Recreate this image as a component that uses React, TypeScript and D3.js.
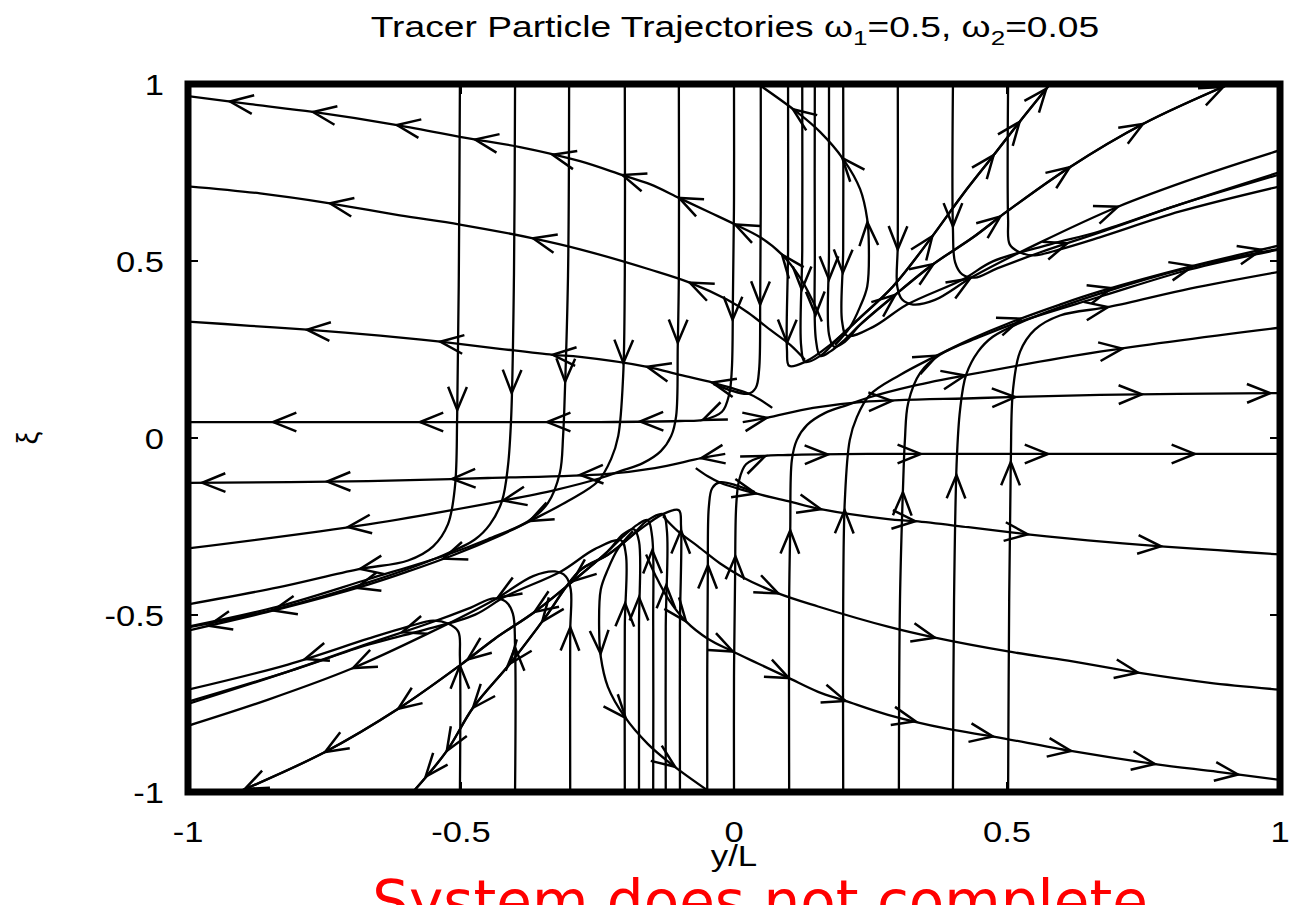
import React from "react";
import * as d3 from "d3";

type P = [number, number];

// ---------- axis ticks ----------
const xTicks = [-1, -0.5, 0, 0.5, 1];
const yTicks = [-1, -0.5, 0, 0.5, 1];
const xTickLabels = ["-1", "-0.5", "0", "0.5", "1"];
const yTickLabels = ["-1", "-0.5", "0", "0.5", "1"];

// ---------- trajectories (y/L, xi) in flow order, with arrow locations ----------
const t1: P[] = [[0.161,0.329],[0.143,0.391],[0.121,0.453],[0.088,0.518],[0.048,0.567],[0.005,0.601],[-0.044,0.637],[-0.099,0.677],[-0.154,0.717],[-0.203,0.742],[-0.282,0.782],[-0.392,0.822],[-0.478,0.844],[-0.617,0.884],[-0.771,0.921],[-0.886,0.943],[-1,0.966]];
const t1A: P[] = [[-0.923,0.952],[-0.771,0.921],[-0.617,0.887],[-0.474,0.844],[-0.333,0.796],[-0.205,0.739],[-0.099,0.683],[0.002,0.603],[0.088,0.518]];
const b1: P[] = [[-0.161,-0.329],[-0.143,-0.391],[-0.121,-0.453],[-0.088,-0.518],[-0.048,-0.567],[-0.005,-0.601],[0.044,-0.637],[0.099,-0.677],[0.154,-0.717],[0.203,-0.742],[0.282,-0.782],[0.392,-0.822],[0.478,-0.844],[0.617,-0.884],[0.771,-0.921],[0.886,-0.943],[1,-0.966]];
const b1A: P[] = [[0.923,-0.952],[0.771,-0.921],[0.617,-0.887],[0.474,-0.844],[0.333,-0.796],[0.205,-0.739],[0.099,-0.683],[-0.002,-0.603],[-0.088,-0.518]];

const t2: P[] = [[0.130,0.221],[0.103,0.263],[0.066,0.306],[0.026,0.354],[-0.013,0.391],[-0.081,0.439],[-0.154,0.476],[-0.282,0.533],[-0.368,0.564],[-0.502,0.603],[-0.612,0.629],[-0.740,0.663],[-0.868,0.691],[-1,0.711]];
const t2A: P[] = [[-0.740,0.663],[-0.368,0.564],[-0.081,0.439]];
const b2: P[] = [[-0.130,-0.221],[-0.103,-0.263],[-0.066,-0.306],[-0.026,-0.354],[0.013,-0.391],[0.081,-0.439],[0.154,-0.476],[0.282,-0.533],[0.368,-0.564],[0.502,-0.603],[0.612,-0.629],[0.740,-0.663],[0.868,-0.691],[1,-0.711]];
const b2A: P[] = [[0.740,-0.663],[0.368,-0.564],[0.081,-0.439]];

const t3: P[] = [[0.070,0.085],[0.048,0.108],[0.024,0.127],[-0.038,0.156],[-0.099,0.178],[-0.159,0.201],[-0.282,0.229],[-0.332,0.235],[-0.429,0.252],[-0.538,0.272],[-0.648,0.289],[-0.782,0.306],[-0.886,0.317],[-1,0.329]];
const t3A: P[] = [[-0.782,0.306],[-0.538,0.272],[-0.332,0.235],[-0.159,0.201],[-0.040,0.156]];
const b3: P[] = [[-0.070,-0.085],[-0.048,-0.108],[-0.024,-0.127],[0.038,-0.156],[0.099,-0.178],[0.159,-0.201],[0.282,-0.229],[0.332,-0.235],[0.429,-0.252],[0.538,-0.272],[0.648,-0.289],[0.782,-0.306],[0.886,-0.317],[1,-0.329]];
const b3A: P[] = [[0.782,-0.306],[0.538,-0.272],[0.332,-0.235],[0.159,-0.201],[0.040,-0.156]];

const t4: P[] = [[0,1],[0,0.674],[-0.002,0.391],[-0.004,0.193],[-0.009,0.122],[-0.022,0.074],[-0.057,0.051],[-0.099,0.048],[-0.245,0.045],[-0.429,0.045],[-0.612,0.045],[-0.795,0.045],[-1,0.045]];
const t4A: P[] = [[-0.002,0.334],[-0.057,0.051],[-0.172,0.046],[-0.342,0.045],[-0.575,0.045],[-0.844,0.045]];
const b4: P[] = [[0,-1],[0,-0.674],[0.002,-0.391],[0.004,-0.193],[0.009,-0.122],[0.022,-0.074],[0.057,-0.051],[0.099,-0.048],[0.245,-0.045],[0.429,-0.045],[0.612,-0.045],[0.795,-0.045],[1,-0.045]];
const b4A: P[] = [[0.002,-0.334],[0.057,-0.051],[0.172,-0.046],[0.342,-0.045],[0.575,-0.045],[0.844,-0.045]];

const v05: P[] = [[0.049,1],[0.049,0.674],[0.048,0.391],[0.046,0.193],[0.040,0.142],[0.026,0.125],[-0.038,0.153]];
const v05A: P[] = [[0.048,0.377]];
const vm05: P[] = [[-0.049,-1],[-0.049,-0.674],[-0.048,-0.391],[-0.046,-0.193],[-0.040,-0.142],[-0.026,-0.125],[0.038,-0.153]];
const vm05A: P[] = [[-0.048,-0.36]];

const r1: P[] = [[0.016,0.045],[0.060,0.057],[0.145,0.085],[0.236,0.102],[0.451,0.113],[0.670,0.122],[1,0.127]];
const r1A: P[] = [[0.060,0.057],[0.289,0.108],[0.515,0.119],[0.747,0.122],[0.982,0.125]];
const l1: P[] = [[-0.016,-0.045],[-0.060,-0.057],[-0.145,-0.085],[-0.236,-0.102],[-0.451,-0.113],[-0.670,-0.122],[-1,-0.127]];
const l1A: P[] = [[-0.060,-0.057],[-0.282,-0.105],[-0.516,-0.119],[-0.745,-0.125],[-0.974,-0.126]];

const r2: P[] = [[0.101,-1],[0.101,-0.459],[0.103,-0.261],[0.106,-0.062],[0.115,-0.006],[0.134,0.037],[0.167,0.071],[0.207,0.093],[0.244,0.113],[0.328,0.147],[0.427,0.178],[0.670,0.244],[1,0.312]];
const r2A: P[] = [[0.103,-0.261],[0.423,0.176],[0.711,0.255]];
const l2: P[] = [[-0.101,1],[-0.101,0.459],[-0.103,0.261],[-0.106,0.062],[-0.115,0.006],[-0.134,-0.037],[-0.167,-0.071],[-0.207,-0.093],[-0.244,-0.113],[-0.328,-0.147],[-0.427,-0.178],[-0.670,-0.244],[-1,-0.312]];
const l2A: P[] = [[-0.104,0.269],[-0.423,-0.176],[-0.707,-0.252]];

const r3: P[] = [[0.2,-1],[0.2,-0.459],[0.203,-0.176],[0.212,-0.006],[0.225,0.059],[0.249,0.122],[0.304,0.178],[0.364,0.227],[0.432,0.278],[0.511,0.329],[0.597,0.377],[0.670,0.414],[0.835,0.484],[1,0.544]];
const r3A: P[] = [[0.203,-0.204],[0.372,0.232],[0.527,0.331],[0.692,0.419],[0.841,0.484],[0.967,0.524]];
const l3: P[] = [[-0.2,1],[-0.2,0.459],[-0.203,0.176],[-0.212,0.006],[-0.225,-0.059],[-0.249,-0.122],[-0.304,-0.178],[-0.364,-0.227],[-0.432,-0.278],[-0.511,-0.329],[-0.597,-0.377],[-0.670,-0.414],[-0.835,-0.484],[-1,-0.544]];
const l3A: P[] = [[-0.203,0.212],[-0.374,-0.235],[-0.533,-0.338],[-0.692,-0.419],[-0.844,-0.487],[-0.963,-0.526]];

const r4: P[] = [[0.302,-1],[0.304,-0.459],[0.310,-0.119],[0.313,-0.006],[0.319,0.099],[0.341,0.184],[0.377,0.235],[0.451,0.286],[0.524,0.329],[0.670,0.399],[0.835,0.476],[1,0.533]];
const r4A: P[] = [[0.304,-0.153]];
const l4: P[] = [[-0.302,1],[-0.304,0.459],[-0.310,0.119],[-0.313,0.006],[-0.319,-0.099],[-0.341,-0.184],[-0.377,-0.235],[-0.451,-0.286],[-0.524,-0.329],[-0.670,-0.399],[-0.835,-0.476],[-1,-0.533]];
const l4A: P[] = [[-0.306,0.159]];

const r5: P[] = [[0.401,-1],[0.403,-0.459],[0.408,-0.062],[0.414,0.079],[0.425,0.178],[0.447,0.244],[0.474,0.286],[0.537,0.334],[0.670,0.408],[0.835,0.482],[1,0.535]];
const r5A: P[] = [[0.405,-0.105]];
const l5: P[] = [[-0.401,1],[-0.403,0.459],[-0.408,0.062],[-0.414,-0.079],[-0.425,-0.178],[-0.447,-0.244],[-0.474,-0.286],[-0.537,-0.334],[-0.670,-0.408],[-0.835,-0.482],[-1,-0.535]];
const l5A: P[] = [[-0.405,0.127]];

const r6: P[] = [[0.502,-1],[0.504,-0.459],[0.507,-0.062],[0.511,0.136],[0.524,0.244],[0.551,0.306],[0.597,0.346],[0.689,0.371],[0.835,0.422],[1,0.470]];
const r6A: P[] = [[0.504,-0.068],[0.685,0.370]];
const l6: P[] = [[-0.502,1],[-0.504,0.459],[-0.507,0.062],[-0.511,-0.136],[-0.524,-0.244],[-0.551,-0.306],[-0.597,-0.346],[-0.689,-0.371],[-0.835,-0.422],[-1,-0.470]];
const l6A: P[] = [[-0.504,0.079],[-0.685,-0.368]];

const g1: P[] = [[0.099,1],[0.099,0.533],[0.097,0.249],[0.101,0.204],[0.130,0.215],[0.176,0.263],[0.231,0.340],[0.291,0.428],[0.359,0.561],[0.419,0.688],[0.474,0.796],[0.524,0.895],[0.579,1]];
const g1A: P[] = [[0.097,0.269],[0.364,0.569],[0.478,0.796],[0.524,0.892],[0.573,0.985]];
const gm1: P[] = [[-0.099,-1],[-0.099,-0.533],[-0.097,-0.249],[-0.101,-0.204],[-0.130,-0.215],[-0.176,-0.263],[-0.231,-0.330],[-0.282,-0.374],[-0.350,-0.516],[-0.410,-0.637],[-0.478,-0.762],[-0.526,-0.884],[-0.588,-1]];
const gm1A: P[] = [[-0.097,-0.261],[-0.350,-0.520],[-0.410,-0.637],[-0.478,-0.762],[-0.526,-0.884],[-0.566,-0.955]];

const g125: P[] = [[0.125,1],[0.125,0.533],[0.123,0.26],[0.130,0.215],[0.158,0.232],[0.190,0.28],[0.231,0.340],[0.291,0.428],[0.359,0.561],[0.419,0.688],[0.474,0.796],[0.524,0.895],[0.579,1]];
const g125A: P[] = [[0.125,0.419]];
const gm125: P[] = [[-0.125,-1],[-0.125,-0.533],[-0.123,-0.26],[-0.130,-0.215],[-0.158,-0.232],[-0.190,-0.28],[-0.231,-0.330],[-0.282,-0.374],[-0.350,-0.516],[-0.410,-0.637],[-0.478,-0.762],[-0.526,-0.884],[-0.588,-1]];
const gm125A: P[] = [[-0.123,-0.416]];

const g2: P[] = [[0.148,1],[0.148,0.533],[0.150,0.278],[0.158,0.232],[0.176,0.244],[0.203,0.278],[0.231,0.320],[0.291,0.399],[0.364,0.490],[0.438,0.567],[0.5,0.640],[0.615,0.765],[0.749,0.887],[0.908,1]];
const g2A: P[] = [[0.148,0.348],[0.295,0.405],[0.368,0.485],[0.487,0.627],[0.615,0.765],[0.749,0.887],[0.896,0.99]];
const gm2: P[] = [[-0.148,-1],[-0.148,-0.533],[-0.150,-0.278],[-0.158,-0.232],[-0.176,-0.244],[-0.203,-0.278],[-0.231,-0.320],[-0.291,-0.399],[-0.364,-0.490],[-0.438,-0.567],[-0.5,-0.640],[-0.615,-0.765],[-0.749,-0.887],[-0.908,-1]];
const gm2A: P[] = [[-0.148,-0.317],[-0.295,-0.405],[-0.368,-0.485],[-0.487,-0.627],[-0.615,-0.765],[-0.749,-0.887],[-0.896,-0.99]];

const g175: P[] = [[0.174,1],[0.174,0.533],[0.174,0.292],[0.183,0.258],[0.203,0.272],[0.231,0.320],[0.291,0.399],[0.364,0.490],[0.438,0.567],[0.5,0.640],[0.615,0.765],[0.749,0.887],[0.908,1]];
const g175A: P[] = [[0.174,0.448]];
const gm175: P[] = [[-0.174,-1],[-0.174,-0.533],[-0.174,-0.292],[-0.183,-0.258],[-0.203,-0.272],[-0.231,-0.320],[-0.291,-0.399],[-0.364,-0.490],[-0.438,-0.567],[-0.5,-0.640],[-0.615,-0.765],[-0.749,-0.887],[-0.908,-1]];
const gm175A: P[] = [[-0.174,-0.45]];

const v2: P[] = [[0.2,1],[0.2,0.533],[0.198,0.329],[0.207,0.289],[0.255,0.314],[0.317,0.377],[0.419,0.448],[0.474,0.499],[0.579,0.547],[0.670,0.584],[0.817,0.660],[1,0.745]];
const v2A: P[] = [[0.2,0.467]];
const vm2: P[] = [[-0.2,-1],[-0.2,-0.533],[-0.198,-0.329],[-0.207,-0.289],[-0.255,-0.314],[-0.317,-0.377],[-0.419,-0.448],[-0.474,-0.499],[-0.579,-0.547],[-0.670,-0.584],[-0.817,-0.660],[-1,-0.745]];
const vm2A: P[] = [[-0.2,-0.467]];

const h1: P[] = [[0.3,1],[0.3,0.55],[0.299,0.428],[0.308,0.391],[0.328,0.377],[0.368,0.39],[0.438,0.456],[0.56,0.552],[0.701,0.652],[0.853,0.739],[1,0.813]];
const h1A: P[] = [[0.299,0.533],[0.432,0.452],[0.703,0.654]];
const hm1: P[] = [[-0.3,-1],[-0.3,-0.55],[-0.299,-0.428],[-0.308,-0.391],[-0.328,-0.377],[-0.368,-0.39],[-0.438,-0.456],[-0.56,-0.552],[-0.701,-0.652],[-0.853,-0.739],[-1,-0.813]];
const hm1A: P[] = [[-0.300,-0.535],[-0.432,-0.452],[-0.698,-0.649]];

const h2: P[] = [[0.401,1],[0.401,0.589],[0.405,0.496],[0.418,0.462],[0.441,0.453],[0.482,0.479],[0.560,0.524],[0.670,0.581],[0.817,0.660],[1,0.751]];
const h2A: P[] = [[0.401,0.598],[0.610,0.552]];
const hm2: P[] = [[-0.401,-1],[-0.401,-0.589],[-0.405,-0.496],[-0.418,-0.462],[-0.441,-0.453],[-0.482,-0.479],[-0.560,-0.524],[-0.670,-0.581],[-0.817,-0.660],[-1,-0.751]];
const hm2A: P[] = [[-0.401,-0.592],[-0.608,-0.548]];

const h3: P[] = [[0.502,1],[0.502,0.618],[0.505,0.547],[0.524,0.524],[0.551,0.516],[0.597,0.533],[0.670,0.567],[0.817,0.640],[1,0.711]];
const h3A: P[] = [];
const hm3: P[] = [[-0.502,-1],[-0.502,-0.618],[-0.505,-0.547],[-0.524,-0.524],[-0.551,-0.516],[-0.597,-0.533],[-0.670,-0.567],[-0.817,-0.640],[-1,-0.711]];
const hm3A: P[] = [[-0.502,-0.643],[-0.786,-0.623]];

const arc: P[] = [[0.185,0.263],[0.212,0.312],[0.231,0.371],[0.244,0.428],[0.247,0.541],[0.244,0.618],[0.231,0.703],[0.2,0.788],[0.158,0.864],[0.115,0.921],[0.044,1]];
const arcA: P[] = [[0.245,0.609],[0.2,0.793],[0.108,0.929]];
const arcm: P[] = [[-0.185,-0.263],[-0.212,-0.312],[-0.231,-0.371],[-0.244,-0.428],[-0.247,-0.541],[-0.244,-0.618],[-0.231,-0.703],[-0.2,-0.788],[-0.158,-0.864],[-0.115,-0.921],[-0.044,-1]];
const arcmA: P[] = [[-0.245,-0.609],[-0.2,-0.793],[-0.108,-0.929]];

const trajectories: { pts: P[]; arrows: P[] }[] = [
  { pts: t1, arrows: t1A }, { pts: b1, arrows: b1A },
  { pts: t2, arrows: t2A }, { pts: b2, arrows: b2A },
  { pts: t3, arrows: t3A }, { pts: b3, arrows: b3A },
  { pts: t4, arrows: t4A }, { pts: b4, arrows: b4A },
  { pts: v05, arrows: v05A }, { pts: vm05, arrows: vm05A },
  { pts: r1, arrows: r1A }, { pts: l1, arrows: l1A },
  { pts: r2, arrows: r2A }, { pts: l2, arrows: l2A },
  { pts: r3, arrows: r3A }, { pts: l3, arrows: l3A },
  { pts: r4, arrows: r4A }, { pts: l4, arrows: l4A },
  { pts: r5, arrows: r5A }, { pts: l5, arrows: l5A },
  { pts: r6, arrows: r6A }, { pts: l6, arrows: l6A },
  { pts: g1, arrows: g1A }, { pts: gm1, arrows: gm1A },
  { pts: g125, arrows: g125A }, { pts: gm125, arrows: gm125A },
  { pts: g2, arrows: g2A }, { pts: gm2, arrows: gm2A },
  { pts: g175, arrows: g175A }, { pts: gm175, arrows: gm175A },
  { pts: v2, arrows: v2A }, { pts: vm2, arrows: vm2A },
  { pts: h1, arrows: h1A }, { pts: hm1, arrows: hm1A },
  { pts: h2, arrows: h2A }, { pts: hm2, arrows: hm2A },
  { pts: h3, arrows: h3A }, { pts: hm3, arrows: hm3A },
  { pts: arc, arrows: arcA }, { pts: arcm, arrows: arcmA },
];

// ---------- layout ----------
const W = 1302;
const H = 905;
const PL = 188, PR = 1280, PT = 84, PB = 792;
const FONT = "'Liberation Sans', Arial, Helvetica, sans-serif";
const ARROW_LEN = 25;
const ARROW_ANG = (22 * Math.PI) / 180;
const LINE_W = 2.3;

export default function App() {
  const x = d3.scaleLinear().domain([-1, 1]).range([PL, PR]);
  const y = d3.scaleLinear().domain([-1, 1]).range([PB, PT]);
  const line = d3
    .line<P>()
    .x((d) => x(d[0]))
    .y((d) => y(d[1]))
    .curve(d3.curveCatmullRom.alpha(0.5));

  const heads: string[] = [];
  trajectories.forEach((tr) => {
    const px = tr.pts.map((p) => [x(p[0]), y(p[1])]);
    tr.arrows.forEach((a) => {
      const ax = x(a[0]);
      const ay = y(a[1]);
      let best = Infinity;
      let tip = [ax, ay];
      let dir = [1, 0];
      for (let i = 0; i < px.length - 1; i++) {
        const [x1, y1] = px[i];
        const [x2, y2] = px[i + 1];
        const dx = x2 - x1, dy = y2 - y1;
        const L2 = dx * dx + dy * dy;
        if (L2 === 0) continue;
        let t = ((ax - x1) * dx + (ay - y1) * dy) / L2;
        t = Math.max(0, Math.min(1, t));
        const qx = x1 + t * dx, qy = y1 + t * dy;
        const dd = (qx - ax) ** 2 + (qy - ay) ** 2;
        if (dd < best) {
          best = dd;
          tip = [qx, qy];
          const l = Math.sqrt(L2);
          dir = [dx / l, dy / l];
        }
      }
      const bx = -dir[0], by = -dir[1];
      const arm = (ang: number) => [
        tip[0] + ARROW_LEN * (bx * Math.cos(ang) - by * Math.sin(ang)),
        tip[1] + ARROW_LEN * (bx * Math.sin(ang) + by * Math.cos(ang)),
      ];
      const p1 = arm(ARROW_ANG);
      const p2 = arm(-ARROW_ANG);
      heads.push(`M${p1[0]},${p1[1]}L${tip[0]},${tip[1]}L${p2[0]},${p2[1]}`);
    });
  });

  return (
    <svg
      width={W}
      height={H}
      style={{ position: "absolute", left: 0, top: 0, background: "#fff" }}
    >
      <defs>
        <clipPath id="plotclip">
          <rect x={PL} y={PT} width={PR - PL} height={PB - PT} />
        </clipPath>
      </defs>
      <rect x={0} y={0} width={W} height={H} fill="#fff" />
      <text
        transform="translate(735,37) scale(1.24,1)"
        textAnchor="middle"
        fontFamily={FONT}
        fontSize={30}
        fill="#000"
      >
        Tracer Particle Trajectories ω
        <tspan fontSize={21} dy={8}>1</tspan>
        <tspan dy={-8}>=0.5, ω</tspan>
        <tspan fontSize={21} dy={8}>2</tspan>
        <tspan dy={-8}>=0.05</tspan>
      </text>

      <g clipPath="url(#plotclip)" fill="none" stroke="#000" strokeWidth={LINE_W}>
        {trajectories.map((tr, i) => (
          <path key={i} d={line(tr.pts) || ""} />
        ))}
        {heads.map((d, i) => (
          <path key={"h" + i} d={d} strokeWidth={2.5} />
        ))}
      </g>

      <g stroke="#000" strokeWidth={2}>
        {yTicks.map((t, i) => (
          <g key={"yt" + i}>
            <line x1={PL} x2={PL + 10} y1={y(t)} y2={y(t)} />
            <line x1={PR} x2={PR - 10} y1={y(t)} y2={y(t)} />
          </g>
        ))}
        {xTicks.map((t, i) => (
          <g key={"xt" + i}>
            <line x1={x(t)} x2={x(t)} y1={PB} y2={PB - 10} />
            <line x1={x(t)} x2={x(t)} y1={PT} y2={PT + 10} />
          </g>
        ))}
      </g>
      <rect
        x={PL}
        y={PT}
        width={PR - PL}
        height={PB - PT}
        fill="none"
        stroke="#000"
        strokeWidth={7}
      />

      <g fontFamily={FONT} fontSize={30} fill="#000">
        {xTicks.map((t, i) => (
          <text
            key={"xl" + i}
            transform={`translate(${x(t)},842) scale(1.15,1)`}
            textAnchor="middle"
          >
            {xTickLabels[i]}
          </text>
        ))}
        {yTicks.map((t, i) => (
          <text
            key={"yl" + i}
            transform={`translate(164,${y(t) + 11}) scale(1.15,1)`}
            textAnchor="end"
          >
            {yTickLabels[i]}
          </text>
        ))}
      </g>
      <text
        x={760}
        y={922}
        textAnchor="middle"
        fontFamily="'DejaVu Sans', sans-serif"
        fontSize={58}
        fill="#ff0000"
      >
        System does not complete
      </text>
      <text
        transform="translate(734,866) scale(1.2,1)"
        textAnchor="middle"
        fontFamily={FONT}
        fontSize={29}
        fill="#000"
      >
        y/L
      </text>
      <text
        transform="translate(38,438) rotate(-90)"
        textAnchor="middle"
        fontFamily={FONT}
        fontSize={29}
        fill="#000"
      >
        ξ
      </text>
    </svg>
  );
}
